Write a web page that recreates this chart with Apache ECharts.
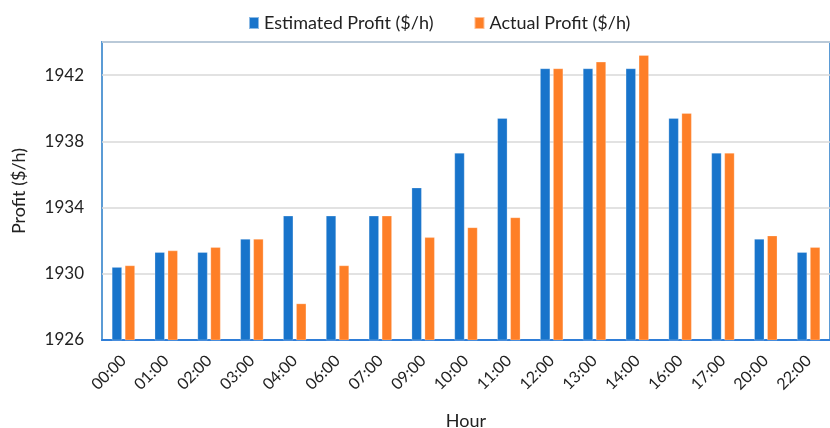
<!DOCTYPE html>
<html>
<head>
<meta charset="utf-8">
<script src="https://cdn.jsdelivr.net/npm/echarts@6/dist/echarts.min.js"></script>
<style>
  html, body { margin: 0; padding: 0; background: #fff; }
  #chart { width: 830px; height: 428px; }
</style>
</head>
<body>
<div id="chart"></div>
<script>
// 数据
const hours = ["00:00", "01:00", "02:00", "03:00", "04:00", "06:00", "07:00", "09:00", "10:00",
  "11:00", "12:00", "13:00", "14:00", "16:00", "17:00", "20:00", "22:00"];
const estimatedProfit = [1930.4, 1931.3, 1931.3, 1932.1, 1933.5, 1933.5, 1933.5, 1935.2, 1937.3,
  1939.4, 1942.4, 1942.4, 1942.4, 1939.4, 1937.3, 1932.1, 1931.3];
const actualProfit = [1930.5, 1931.4, 1931.6, 1932.1, 1928.2, 1930.5, 1933.5, 1932.2, 1932.8,
  1933.4, 1942.4, 1942.8, 1943.2, 1939.7, 1937.3, 1932.3, 1931.6];

const font = "Lato, 'Open Sans', sans-serif";
const chart = echarts.init(document.getElementById("chart"));

chart.setOption({
  animation: false,
  textStyle: { fontFamily: font },
  legend: {
    top: 9,
    left: 243,
    itemWidth: 10,
    itemHeight: 12,
    itemGap: 40,
    icon: "rect",
    textStyle: { fontSize: 18, color: "#222", fontFamily: font },
    data: ["Estimated Profit ($/h)", "Actual Profit ($/h)"],
  },
  grid: {
    left: 102,
    right: 0,
    top: 42,
    bottom: 88,
    outerBoundsMode: "none",
    show: true,
    borderColor: "#5b9bd5",
    borderWidth: 2,
  },
  xAxis: {
    type: "category",
    data: hours,
    name: "Hour",
    nameLocation: "middle",
    nameGap: 72,
    nameTextStyle: { fontSize: 18, color: "#222" },
    axisLine: { lineStyle: { color: "#2f7ed8", width: 2 } },
    axisTick: { show: false },
    axisLabel: { rotate: 45, fontSize: 16, color: "#222", margin: 18, interval: 0 },
  },
  yAxis: {
    type: "value",
    min: 1926,
    max: 1944,
    interval: 4,
    name: "Profit ($/h)",
    nameLocation: "middle",
    nameGap: 74,
    nameTextStyle: { fontSize: 18, color: "#222" },
    axisLine: { show: false },
    axisTick: { show: false },
    axisLabel: {
      fontSize: 17, color: "#222", margin: 18, showMaxLabel: false,
      formatter: function (v) { return String(v); },
    },
    splitLine: { lineStyle: { color: "#d9d9d9", width: 1.5 } },
  },
  series: [
    {
      name: "Estimated Profit ($/h)",
      type: "bar",
      data: estimatedProfit,
      barWidth: 10,
      barGap: "30%",
      itemStyle: { color: "#1874cb", borderColor: "rgba(255,255,255,0.5)", borderWidth: 0.5 },
    },
    {
      name: "Actual Profit ($/h)",
      type: "bar",
      data: actualProfit,
      barWidth: 10,
      barGap: "30%",
      itemStyle: { color: "#fe7f27", borderColor: "rgba(255,255,255,0.5)", borderWidth: 0.5 },
    },
  ],
});

window.addEventListener("resize", function () {
  chart.resize();
});
</script>
</body>
</html>
